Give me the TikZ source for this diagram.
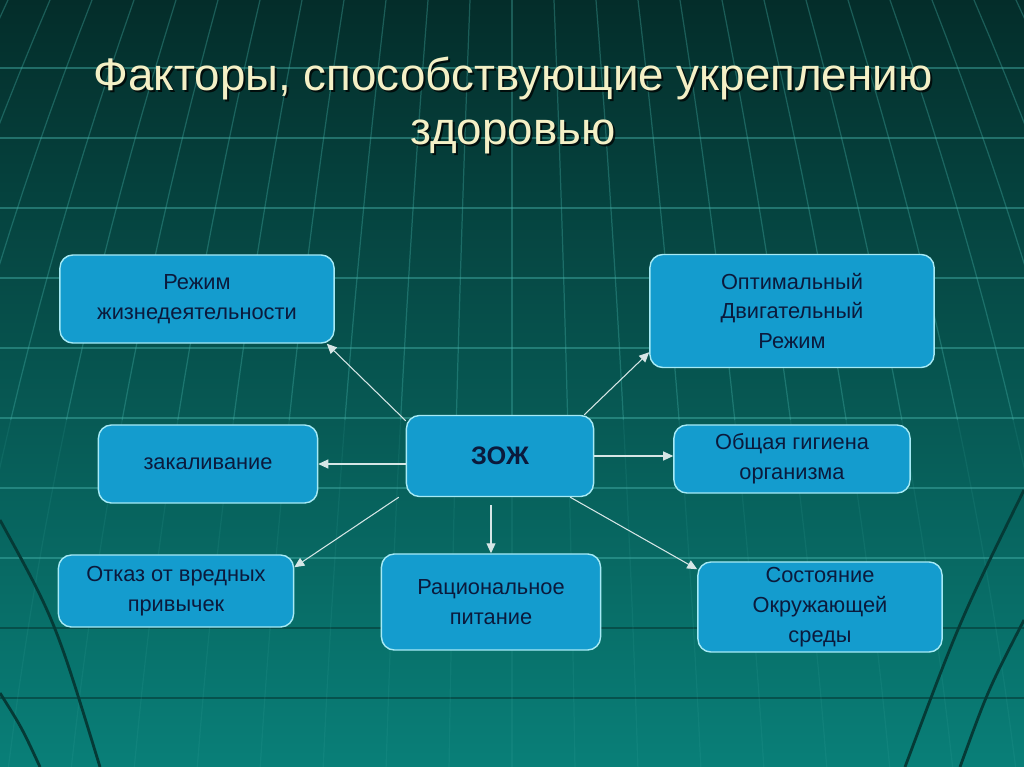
\documentclass[tikz,border=0pt]{standalone}
\usepackage{fontspec}
\setmainfont{Liberation Sans}
\usetikzlibrary{arrows.meta}

\definecolor{bgtop}{HTML}{042D2A}
\definecolor{bgmid}{HTML}{0A5752}
\definecolor{bgbot}{HTML}{097F78}
\definecolor{gridlt}{HTML}{46B3AA}
\definecolor{griddk}{HTML}{053A36}
\definecolor{boxfill}{HTML}{149CCE}
\definecolor{boxline}{HTML}{A6EAF5}
\definecolor{boxtext}{HTML}{0B1A3C}
\definecolor{titletext}{HTML}{F4F0C6}
\definecolor{arrowcol}{HTML}{D6E6E6}

\tikzset{
  factor/.style={draw=boxline, line width=0.4pt, fill=boxfill, rounded corners=1.3mm,
    text=boxtext, align=center, inner sep=0pt,
    font=\fontsize{6.2pt}{8.5pt}\selectfont},
  link/.style={draw=arrowcol, line width=0.3pt, -{Triangle[length=1mm,width=0.9mm]}},
  gridline/.style={draw=gridlt, line width=0.35pt, opacity=0.45},
}

\begin{document}
\begin{tikzpicture}[x=0.01cm, y=-0.01cm]

% Background
\useasboundingbox (0,0) rectangle (1024,767);
\fill[top color=bgtop, middle color=bgmid, bottom color=bgbot] (0,0) rectangle (1024,767);
\begin{scope}
\clip (0,0) rectangle (1024,767);
\foreach \gy in {68,138,...,558}
  \draw[gridline] (0,\gy) -- (1024,\gy);
\foreach \gy in {628,698}
  \draw[draw=griddk, line width=0.4pt, opacity=0.6] (0,\gy) -- (1024,\gy);
\foreach \k in {-13,...,13} {
  \draw[gridline, opacity=0.35] plot[domain=0:420, samples=12, variable=\t]
    ({512+\k*(42+0.039*\t-0.000017*\t*\t)}, \t);
  \draw[gridline, opacity=0.12] plot[domain=420:767, samples=10, variable=\t]
    ({512+\k*(42+0.039*\t-0.000017*\t*\t)}, \t);
}
% globe rim
\draw[griddk, line width=0.8pt] (0,520) .. controls (55,620) .. (100,767);
\draw[griddk, line width=0.8pt] (0,693) .. controls (22,728) .. (40,767);
\draw[griddk, line width=0.8pt] (1024,490) .. controls (960,620) .. (905,767);
\draw[griddk, line width=0.8pt] (1024,620) .. controls (988,690) .. (960,767);
\end{scope}

% Title
\node[anchor=base, align=center, text=black, opacity=0.75,
  font=\fontsize{13pt}{15.6pt}\selectfont] (titleshade) at (515,147)
  {Факторы, способствующие укреплению\\здоровью};
\node[anchor=base, align=center, text=titletext,
  font=\fontsize{13pt}{15.6pt}\selectfont] (title) at (513,145)
  {Факторы, способствующие укреплению\\здоровью};

% Define nodes
\node[factor, minimum width=2.74cm, minimum height=0.88cm] (rezhim) at (197,299)
  {Режим\\жизнедеятельности};
\node[factor, minimum width=2.84cm, minimum height=1.13cm] (dvig) at (792,311)
  {Оптимальный\\Двигательный\\Режим};
\node[factor, minimum width=2.19cm, minimum height=0.78cm] (zakal) at (208,464)
  {закаливание};
\node[factor, minimum width=1.87cm, minimum height=0.81cm,
  font=\bfseries\fontsize{7.2pt}{9pt}\selectfont] (zozh) at (500,456)
  {ЗОЖ};
\node[factor, minimum width=2.36cm, minimum height=0.68cm] (gigiena) at (792,459)
  {Общая гигиена\\организма};
\node[factor, minimum width=2.35cm, minimum height=0.72cm] (otkaz) at (176,591)
  {Отказ от вредных\\привычек};
\node[factor, minimum width=2.19cm, minimum height=0.96cm] (pitanie) at (491,602)
  {Рациональное\\питание};
\node[factor, minimum width=2.44cm, minimum height=0.90cm] (sreda) at (820,607)
  {Состояние\\Окружающей\\среды};

% Arrows
\draw[link] ([yshift=-0.6mm]zozh.north west) -- ([xshift=-0.8mm]rezhim.south east);
\draw[link] ([xshift=-1mm]zozh.north east) -- ([yshift=1.6mm]dvig.south west);
\draw[link] (zozh.west |- zakal.east) -- (zakal.east);
\draw[link] (zozh.east) -- (zozh.east -| gigiena.west);
\draw[link] ([xshift=-0.7mm]zozh.south west) -- ([yshift=-1.3mm]otkaz.north east);
\draw[link, shorten <=0.8mm] (pitanie.north |- zozh.south) -- (pitanie.north);
\draw[link] ([xshift=-2.4mm]zozh.south east) -- ([yshift=-0.8mm]sreda.north west);

\end{tikzpicture}
\end{document}
